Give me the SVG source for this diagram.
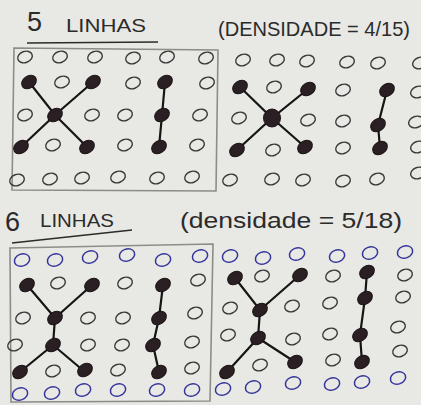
<svg xmlns="http://www.w3.org/2000/svg" xmlns:xlink="http://www.w3.org/1999/xlink" width="421" height="405" viewBox="0 0 421 405">
<style>
.t{font-family:"Liberation Sans","DejaVu Sans",sans-serif;fill:#2b2b2b;}
.box{fill:none;stroke:#8c8c88;stroke-width:1.6;}
.ul{stroke:#2b2b2b;stroke-width:1.6;fill:none;}
.e{stroke:#151515;stroke-width:2.2;fill:none;stroke-linecap:round;}
</style>
<defs>
<ellipse id="o" rx="7.5" ry="5.6" fill="none" stroke="#3a3a3a" stroke-width="1.4" transform="rotate(-20)"/>
<ellipse id="b" rx="7.8" ry="6" fill="none" stroke="#35359a" stroke-width="1.5" transform="rotate(-20)"/>
<ellipse id="f" rx="8" ry="6" fill="#2a1f22" stroke="#1a1215" stroke-width="1" transform="rotate(-35)"/>
<ellipse id="c" rx="8.5" ry="9" fill="#2a1f22" stroke="#1a1215" stroke-width="1"/>
</defs>
<rect width="421" height="405" fill="#e8e8e5"/>

<g id="titles">
<text class="t" x="27" y="31" font-size="27">5</text>
<text class="t" x="66" y="32" font-size="19" textLength="80" lengthAdjust="spacingAndGlyphs">LINHAS</text>
<line class="ul" x1="27" y1="43" x2="158" y2="42"/>
<text class="t" x="218" y="36" font-size="21" textLength="192" lengthAdjust="spacingAndGlyphs">(DENSIDADE = 4/15)</text>
<text class="t" x="5" y="231" font-size="27">6</text>
<text class="t" x="40" y="227" font-size="18" textLength="74" lengthAdjust="spacingAndGlyphs">LINHAS</text>
<path class="ul" d="M12 243 L132 230"/>
<text class="t" x="180" y="228" font-size="22" textLength="222" lengthAdjust="spacingAndGlyphs">(densidade = 5/18)</text>
</g>

<g id="frames">
<path class="box" d="M14 48 L218 50 L216 191 L12 190 Z"/>
<path class="box" d="M10 248 L213 244 L210 401 L11 402 Z"/>
</g>

<g id="connectors">
<path class="e" d="M29 82 L55 115 L93 82 M55 115 L21 147 M55 115 L87 147 M165 82 L162 115 L159 147"/>
<path class="e" d="M240 87 L272 118 L308 89 M272 118 L237 150 M272 118 L305 147 M387 90 L378 125 L380 148"/>
<path class="e" d="M27 285 L55 318 L92 285 M55 318 L53 345 L20 372 M53 345 L85 372 M163 285 L159 318 L153 345 L159 372"/>
<path class="e" d="M235 278 L260 310 L300 275 M260 310 L258 338 L227 372 M258 338 L295 362 M367 272 L365 298 L360 335 L362 362"/>
</g>

<g id="grid-top-left">
<use href="#o" x="25" y="57"/><use href="#o" x="60" y="57"/><use href="#o" x="95" y="57"/><use href="#o" x="133" y="58"/><use href="#o" x="167" y="57"/><use href="#o" x="206" y="58"/>
<use href="#f" x="29" y="82"/><use href="#o" x="62" y="82"/><use href="#f" x="93" y="82"/><use href="#o" x="133" y="83"/><use href="#f" x="165" y="82"/><use href="#o" x="207" y="83"/>
<use href="#o" x="25" y="115"/><use href="#f" x="55" y="115"/><use href="#o" x="92" y="115"/><use href="#o" x="125" y="115"/><use href="#f" x="162" y="115"/><use href="#o" x="200" y="115"/>
<use href="#f" x="21" y="147"/><use href="#o" x="53" y="145"/><use href="#f" x="87" y="147"/><use href="#o" x="125" y="145"/><use href="#f" x="159" y="147"/><use href="#o" x="197" y="145"/>
<use href="#o" x="17" y="180"/><use href="#o" x="50" y="179"/><use href="#o" x="82" y="178"/><use href="#o" x="118" y="177"/><use href="#o" x="157" y="178"/><use href="#o" x="192" y="177"/>
</g>

<g id="grid-top-right">
<use href="#o" x="243" y="60"/><use href="#o" x="277" y="60"/><use href="#o" x="307" y="61"/><use href="#o" x="347" y="62"/><use href="#o" x="378" y="63"/><use href="#o" x="420" y="63"/>
<use href="#f" x="240" y="87"/><use href="#o" x="274" y="87"/><use href="#f" x="308" y="89"/><use href="#o" x="343" y="90"/><use href="#f" x="387" y="90"/><use href="#o" x="418" y="92"/>
<use href="#o" x="239" y="118"/><use href="#c" x="272" y="118"/><use href="#o" x="308" y="120"/><use href="#o" x="343" y="121"/><use href="#f" x="378" y="125"/><use href="#o" x="416" y="122"/>
<use href="#f" x="237" y="150"/><use href="#o" x="273" y="150"/><use href="#f" x="305" y="147"/><use href="#o" x="343" y="148"/><use href="#f" x="380" y="148"/><use href="#o" x="418" y="147"/>
<use href="#o" x="230" y="180"/><use href="#o" x="272" y="179"/><use href="#o" x="303" y="180"/><use href="#o" x="343" y="181"/><use href="#o" x="377" y="179"/><use href="#o" x="418" y="173"/>
</g>

<g id="grid-bottom-left">
<use href="#b" x="22" y="260"/><use href="#b" x="55" y="260"/><use href="#b" x="90" y="257"/><use href="#b" x="127" y="255"/><use href="#b" x="163" y="260"/><use href="#b" x="200" y="256"/>
<use href="#f" x="27" y="285"/><use href="#o" x="58" y="283"/><use href="#f" x="92" y="285"/><use href="#o" x="125" y="283"/><use href="#f" x="163" y="285"/><use href="#o" x="198" y="280"/>
<use href="#o" x="23" y="318"/><use href="#f" x="55" y="318"/><use href="#o" x="88" y="318"/><use href="#o" x="123" y="318"/><use href="#f" x="159" y="318"/><use href="#o" x="195" y="313"/>
<use href="#o" x="15" y="345"/><use href="#f" x="53" y="345"/><use href="#o" x="88" y="345"/><use href="#o" x="122" y="345"/><use href="#f" x="153" y="345"/><use href="#o" x="192" y="342"/>
<use href="#f" x="20" y="372"/><use href="#o" x="53" y="371"/><use href="#f" x="85" y="370"/><use href="#o" x="118" y="370"/><use href="#f" x="159" y="372"/><use href="#o" x="192" y="368"/>
<use href="#b" x="20" y="394"/><use href="#b" x="52" y="393"/><use href="#b" x="83" y="390"/><use href="#b" x="118" y="390"/><use href="#b" x="157" y="390"/><use href="#b" x="192" y="390"/>
</g>

<g id="grid-bottom-right">
<use href="#b" x="230" y="256"/><use href="#b" x="263" y="258"/><use href="#b" x="297" y="254"/><use href="#b" x="337" y="256"/><use href="#b" x="370" y="253"/><use href="#b" x="405" y="252"/>
<use href="#f" x="235" y="278"/><use href="#o" x="262" y="276"/><use href="#f" x="300" y="275"/><use href="#o" x="333" y="276"/><use href="#f" x="367" y="272"/><use href="#o" x="405" y="275"/>
<use href="#o" x="230" y="308"/><use href="#f" x="260" y="310"/><use href="#o" x="292" y="306"/><use href="#o" x="330" y="303"/><use href="#f" x="365" y="298"/><use href="#o" x="403" y="297"/>
<use href="#o" x="228" y="335"/><use href="#f" x="258" y="338"/><use href="#o" x="293" y="339"/><use href="#o" x="330" y="334"/><use href="#f" x="360" y="335"/><use href="#o" x="398" y="327"/>
<use href="#f" x="227" y="372"/><use href="#o" x="260" y="365"/><use href="#f" x="295" y="362"/><use href="#o" x="333" y="360"/><use href="#f" x="362" y="362"/><use href="#o" x="400" y="351"/>
<use href="#b" x="223" y="389"/><use href="#b" x="253" y="387"/><use href="#b" x="293" y="383"/><use href="#b" x="332" y="384"/><use href="#b" x="362" y="382"/><use href="#b" x="398" y="378"/>
</g>
</svg>
